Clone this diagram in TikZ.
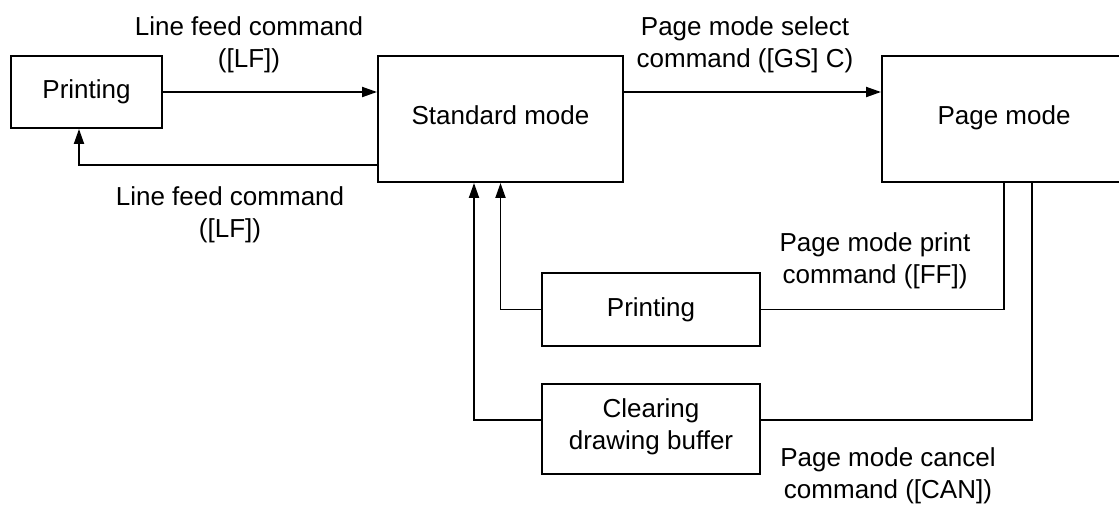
\documentclass[tikz,border=0pt]{standalone}
\usepackage{fontspec}
\setmainfont{Liberation Sans}
\usetikzlibrary{arrows.meta, positioning}

\begin{document}
\begin{tikzpicture}[
    x=1pt, y=-1pt,
    every node/.style={font=\fontsize{26}{32}\selectfont, align=center},
    box/.style={draw, line width=1.9pt, inner sep=0pt},
    smallbox/.style={box, minimum width=218pt},
    lbl/.style={inner sep=0pt},
    wire/.style={line width=1.9pt},
    arr/.style={wire, -{Triangle[length=15pt, width=10pt]}},
  ]
  \useasboundingbox (0,0) rectangle (1119,504);

  % mode boxes
  \node[box, minimum width=151pt, minimum height=72pt] (prtL) at (86.5,92) {Printing};
  \node[box, minimum width=245pt, minimum height=126pt, text depth=8pt] (std) at (500.5,119) {Standard mode};
  \node[box, minimum width=244pt, minimum height=126pt, text depth=8pt] (page) at (1004,119) {Page mode};

  \node[smallbox, minimum height=73pt] (prtM) at (651,309.5) {Printing};
  \node[smallbox, minimum height=90pt, below=36pt of prtM, text depth=9pt] (clr) {Clearing\\drawing buffer};

  % labels
  \node[lbl] (lfA) at (249,45) {Line feed command\\([LF])};
  \node[lbl] (lfB) at (230,215) {Line feed command\\([LF])};
  \node[lbl] (sel) at (745,45) {Page mode select\\command ([GS] C)};
  \node[lbl] (ff) at (875,261) {Page mode print\\command ([FF])};
  \node[lbl] (can) at (888,476) {Page mode cancel\\command ([CAN])};

  % connectors
  \draw[arr] (prtL.east) -- (prtL.east -| std.west);
  \draw[arr] ([yshift=18pt]std.south west) -| ([xshift=-7.5pt]prtL.south);
  \draw[arr] ([yshift=27pt]std.east) -- ([yshift=27pt]std.east -| page.west);
  \draw[wire] (page.south) |- (prtM.east);
  \draw[arr] (prtM.west) -| (std.south);
  \draw[wire] ([xshift=28pt]page.south) |- ([yshift=9pt]clr.east);
  \draw[arr] ([yshift=9pt]clr.west) -| ([xshift=-26.5pt]std.south);
\end{tikzpicture}
\end{document}
